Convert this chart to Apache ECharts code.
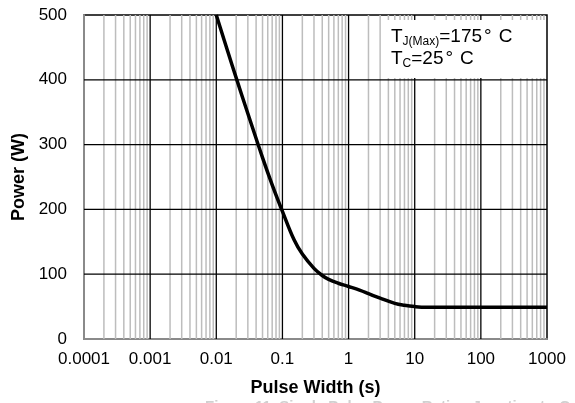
<!DOCTYPE html>
<html>
<head>
<meta charset="utf-8">
<script src="https://cdn.jsdelivr.net/npm/echarts@6/dist/echarts.min.js"></script>
<style>html,body{margin:0;padding:0;background:#fff}#c{width:575px;height:403px}</style>
</head>
<body>
<div id="c"></div>
<script>
var pulseWidth = [0.01, 0.015, 0.02, 0.03, 0.05, 0.07, 0.1, 0.15, 0.2, 0.3, 0.4, 0.5, 0.7, 1, 1.5, 2, 3, 5, 7, 10, 15, 20, 50, 100, 1000];
var power =      [500,  443,   403,  348,  280,  238,  197, 153,  131, 109, 98,  92,  86,  81, 75,  70, 63, 55, 52, 50, 49, 49, 49, 49, 49];
var xTicks = [0.0001, 0.001, 0.01, 0.1, 1, 10, 100, 1000];
var yTicks = [0, 100, 200, 300, 400, 500];
var minorMult = [2, 3, 4, 5, 6, 7, 8, 9];

var curve = pulseWidth.map(function (x, i) { return [x, power[i]]; });
var minorX = [];
xTicks.slice(0, -1).forEach(function (d) {
  minorMult.forEach(function (m) { minorX.push(+(d * m).toPrecision(6)); });
});
var majorX = xTicks.slice(1, -1);
var majorY = yTicks.slice(1, -1);
var X0 = xTicks[0], X1 = xTicks[xTicks.length - 1], Y0 = yTicks[0], Y1 = yTicks[yTicks.length - 1];

function vLine(color, width) {
  return function (params, api) {
    var x = api.value(0);
    var a = api.coord([x, Y0]), b = api.coord([x, Y1]);
    return { type: 'line', shape: { x1: a[0], y1: a[1], x2: b[0], y2: b[1] }, style: { stroke: color, lineWidth: width } };
  };
}
function hLine(color, width) {
  return function (params, api) {
    var y = api.value(1);
    var a = api.coord([X0, y]), b = api.coord([X1, y]);
    return { type: 'line', shape: { x1: a[0], y1: a[1], x2: b[0], y2: b[1] }, style: { stroke: color, lineWidth: width } };
  };
}

var FONT = 'Liberation Sans, Arial, sans-serif';
var rich = {
  m: { fontFamily: FONT, fontSize: 19, fill: '#000' },
  d: { fontFamily: FONT, fontSize: 19, fill: '#000', padding: [0, 7, 0, 2] },
  s: { fontFamily: FONT, fontSize: 12, fill: '#000', verticalAlign: 'bottom', padding: [0, 0, -2, 0] }
};
var chart = echarts.init(document.getElementById('c'));
chart.setOption({
  animation: false,
  grid: { left: 84, right: 28, top: 15, bottom: 64, show: true, borderColor: '#000', borderWidth: 1.5, backgroundColor: '#fff' },
  xAxis: {
    type: 'log', logBase: 10, min: X0, max: X1,
    name: 'Pulse Width (s)', nameLocation: 'middle', nameGap: 40,
    nameTextStyle: { fontFamily: FONT, fontWeight: 'bold', fontSize: 18, color: '#000' },
    axisLine: { lineStyle: { color: '#8a8a8a', width: 2 } },
    axisTick: { show: false },
    splitLine: { show: false },
    axisLabel: { fontFamily: FONT, fontSize: 17, color: '#000', margin: 12,
      formatter: function (v) { return String(+(+v).toPrecision(6)); } }
  },
  yAxis: {
    type: 'value', min: Y0, max: Y1, interval: 100,
    name: 'Power (W)', nameLocation: 'middle', nameGap: 54,
    nameTextStyle: { fontFamily: FONT, fontWeight: 'bold', fontSize: 18, color: '#000' },
    axisLine: { show: true, lineStyle: { color: '#8a8a8a', width: 2 } },
    axisTick: { show: false },
    splitLine: { show: false },
    axisLabel: { fontFamily: FONT, fontSize: 17, color: '#000', margin: 17 }
  },
  series: [
    { type: 'custom', silent: true, z: 1, data: minorX.map(function (x) { return [x, Y0]; }), renderItem: vLine('#bdbdbd', 1.5) },
    { type: 'custom', silent: true, z: 2, data: majorX.map(function (x) { return [x, Y0]; }), renderItem: vLine('#000', 1.3) },
    { type: 'custom', silent: true, z: 2, data: majorY.map(function (y) { return [X0, y]; }), renderItem: hLine('#000', 1.3) },
    { type: 'line', data: curve, z: 5, smooth: 0.4, showSymbol: false, clip: true,
      lineStyle: { color: '#000', width: 3.5 } }
  ],
  graphic: [
    { type: 'rect', z: 10, shape: { x: 383, y: 20, width: 162, height: 58 }, style: { fill: '#fff' } },
    { type: 'text', z: 11, left: 391, top: 27,
      style: { rich: rich, text: '{m|T}{s|J(Max)}{m|=175}{d|°}{m|C}' } },
    { type: 'text', z: 11, left: 391, top: 49,
      style: { rich: rich, text: '{m|T}{s|C}{m|=25}{d|°}{m|C}' } },
    { type: 'text', z: 11, left: 205, top: 399,
      style: { text: 'Figure 11. Single Pulse Power Rating Junction-to-Case', fontFamily: FONT, fontSize: 15, fontWeight: 'bold', fill: '#d0d0d0' } }
  ]
});
</script>
</body>
</html>
